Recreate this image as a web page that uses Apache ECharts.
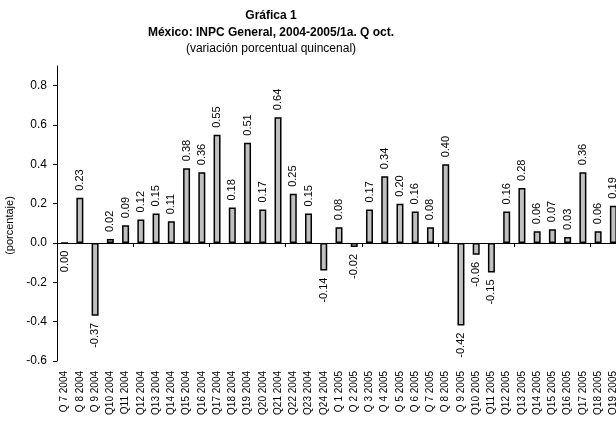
<!DOCTYPE html>
<html>
<head>
<meta charset="utf-8">
<script src="https://cdn.jsdelivr.net/npm/echarts@6/dist/echarts.min.js"></script>
<style>
  html, body { margin: 0; padding: 0; background: #fff; }
  #chart { width: 616px; height: 424px; }
</style>
</head>
<body>
<div id="chart"></div>
<script>
const categories = [
  'Q 7 2004', 'Q 8 2004', 'Q 9 2004', 'Q10 2004', 'Q11 2004', 'Q12 2004',
  'Q13 2004', 'Q14 2004', 'Q15 2004', 'Q16 2004', 'Q17 2004', 'Q18 2004',
  'Q19 2004', 'Q20 2004', 'Q21 2004', 'Q22 2004', 'Q23 2004', 'Q24 2004',
  'Q 1 2005', 'Q 2 2005', 'Q 3 2005', 'Q 4 2005', 'Q 5 2005', 'Q 6 2005',
  'Q 7 2005', 'Q 8 2005', 'Q 9 2005', 'Q10 2005', 'Q11 2005', 'Q12 2005',
  'Q13 2005', 'Q14 2005', 'Q15 2005', 'Q16 2005', 'Q17 2005', 'Q18 2005',
  'Q19 2005'
];
const values = [
  0.00, 0.23, -0.37, 0.02, 0.09, 0.12, 0.15, 0.11, 0.38, 0.36, 0.55, 0.18,
  0.51, 0.17, 0.64, 0.25, 0.15, -0.14, 0.08, -0.02, 0.17, 0.34, 0.20, 0.16,
  0.08, 0.40, -0.42, -0.06, -0.15, 0.16, 0.28, 0.06, 0.07, 0.03, 0.36, 0.06,
  0.19
];
const yTicks = [-0.6, -0.4, -0.2, 0.0, 0.2, 0.4, 0.6, 0.8];

const font = 'Arial, "Liberation Sans", sans-serif';

const chart = echarts.init(document.getElementById('chart'));

// labels go above positive bars, below zero/negative ones
const barData = values.map((v) => ({
  value: v,
  label: v > 0
    ? { position: 'top', align: 'left', distance: 7 }
    : { position: 'bottom', align: 'right', distance: 7 },
}));

chart.setOption({
  animation: false,
  title: [
    {
      text: 'Gráfica 1',
      left: 266, top: 5, textAlign: 'center',
      textStyle: { fontFamily: font, fontSize: 12, fontWeight: 'bold', color: '#000' },
    },
    {
      text: 'México: INPC General, 2004-2005/1a. Q oct.',
      left: 266, top: 22, textAlign: 'center',
      textStyle: { fontFamily: font, fontSize: 12, fontWeight: 'bold', color: '#000' },
    },
    {
      text: '(variación porcentual quincenal)',
      left: 266, top: 38, textAlign: 'center',
      textStyle: { fontFamily: font, fontSize: 12, fontWeight: 'normal', color: '#000' },
    },
  ],
  grid: {
    left: 57,
    top: 66,
    width: 564,
    height: 295,
    outerBoundsMode: 'none',
  },
  xAxis: [
    {
      type: 'category',
      data: categories,
      position: 'bottom',
      axisLine: { show: false, onZero: false },
      axisTick: { show: false },
      axisLabel: {
        rotate: 90,
        interval: 0,
        margin: 10,
        fontFamily: font,
        fontSize: 10,
        color: '#000',
      },
    },
    {
      type: 'category',
      data: categories,
      position: 'bottom',
      axisLine: { show: true, onZero: true, lineStyle: { color: '#000', width: 1 } },
      axisTick: { show: true, length: 4, lineStyle: { color: '#000' } },
      axisLabel: { show: false },
    },
  ],
  yAxis: {
    type: 'value',
    min: -0.6,
    max: 0.9,
    interval: 0.2,
    name: '(porcentaje)',
    nameLocation: 'middle',
    nameGap: 37,
    nameRotate: 90,
    nameTextStyle: { fontFamily: font, fontSize: 11, color: '#000', padding: [0, 24, 0, 0] },
    splitLine: { show: false },
    axisLine: { show: true, lineStyle: { color: '#000', width: 1 } },
    axisTick: { show: true, length: 4, customValues: yTicks, lineStyle: { color: '#000' } },
    axisLabel: {
      customValues: yTicks,
      formatter: (v) => v.toFixed(1),
      margin: 10,
      fontFamily: font,
      fontSize: 12,
      color: '#000',
    },
  },
  series: [
    {
      type: 'bar',
      xAxisIndex: 0,
      data: barData,
      barWidth: 7,
      itemStyle: { color: '#c0c0c0', borderColor: '#000', borderWidth: 1.5 },
      label: {
        show: true,
        rotate: 90,
        verticalAlign: 'middle',
        formatter: (p) => p.value.toFixed(2),
        fontFamily: font,
        fontSize: 11,
        color: '#000',
      },
    },
  ],
});
</script>
</body>
</html>
